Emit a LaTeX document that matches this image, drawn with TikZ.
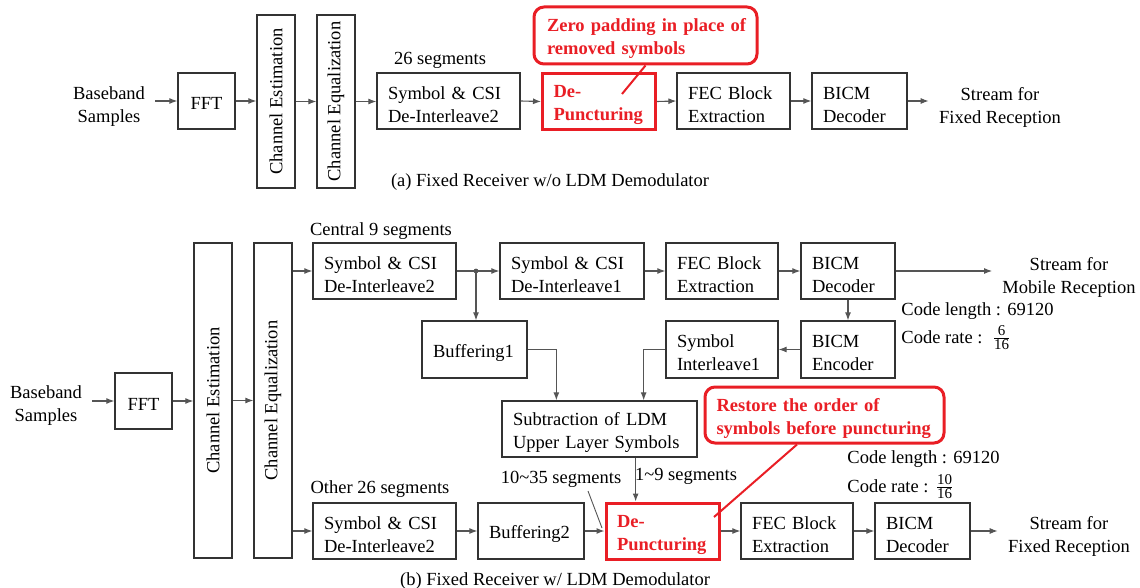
\documentclass[tikz,border=0pt]{standalone}
\usepackage{fontspec}
\setmainfont{Liberation Serif}
\usetikzlibrary{arrows.meta,calc}
\definecolor{boxc}{HTML}{333333}
\definecolor{linec}{HTML}{555555}
\definecolor{callred}{RGB}{233,30,37}
\newcommand\fz{\fontsize{9.25pt}{11.5pt}\selectfont}
\newcommand\fdig[1]{\mbox{\fontsize{7.5pt}{8pt}\selectfont #1}}
\begin{document}
\begin{tikzpicture}[x=0.5pt,y=-0.5pt,
 every node/.style={font=\fz},
 box/.style={draw=boxc, line width=0.65pt, inner xsep=5.5pt, inner ysep=0pt, align=left, minimum height=28pt, text height=9.6pt},
 fftbox/.style={draw=boxc, line width=0.65pt, inner sep=0pt, align=center, minimum width=28.5pt, minimum height=28pt, text height=9pt},
 redbox/.style={box, draw=callred, line width=1.5pt, text=callred, font=\fz\bfseries},
 vbox/.style={draw=boxc, line width=0.65pt, rotate=90, inner sep=0pt, minimum height=19pt},
 lbl/.style={inner sep=0pt, yshift=-1pt},
 txt/.style={align=center, inner xsep=5pt, inner ysep=0pt, yshift=-2pt},
 arr/.style={draw=linec, line width=0.55pt, -{Latex[length=4pt,width=3pt]}},
 conn/.style={draw=linec, line width=0.45pt},
 callout/.style={draw=callred, line width=1.5pt, rounded corners=5pt, text=callred, font=\fz\bfseries, align=left, inner ysep=0pt, text height=9.8pt},
 callline/.style={draw=callred, line width=1pt}
]
\useasboundingbox (0,0) rectangle (1140,588);

% ---------------- (a) ----------------
\node[txt] (inA) at (109,103) {Baseband\\Samples};
\node[fftbox] (fftA) at (206.5,101) {FFT};
\node[vbox, minimum width=86.5pt] (ceA) at (276,101.5) {Channel Estimation};
\node[vbox, minimum width=86.5pt] (cqA) at (336,101.5) {Channel Equalization};
\node[box, text width=60.5pt] (sdA) at (448.5,101) {Symbol \& CSI\\De-Interleave2};
\node[redbox, text width=45.5pt] (dpA) at (599,101.5) {De-\\Puncturing};
\node[box, text width=45.5pt] (fecA) at (733.5,101) {FEC Block\\Extraction};
\node[box, text width=36.5pt] (bicmA) at (859.5,101) {BICM\\Decoder};
\node[txt] (outA) at (1000,103) {Stream for\\Fixed Reception};
\node[lbl] (seg26) at (440,58) {26 segments};
\node[callout, inner xsep=6.5pt, text width=98.5pt, minimum height=28.5pt] (callA) at (645.5,35.5) {\mbox{Zero padding in place of}\\\mbox{removed symbols}};
\node[lbl] (capA) at (550,180) {(a) Fixed Receiver w/o LDM Demodulator};

\draw[arr] (inA.east |- fftA.west) -- (fftA.west);
\draw[arr] (fftA.east) -- (fftA.east -| ceA.north);
\draw[arr] (ceA.south) -- (cqA.north);
\draw[arr] (cqA.south) -- (cqA.south -| sdA.west);
\draw[arr] (sdA.east) -- (dpA.west);
\draw[arr] (dpA.east) -- (fecA.west);
\draw[arr] (fecA.east) -- (bicmA.west);
\draw[arr] (bicmA.east) -- (outA.west |- bicmA.east);
\coordinate (caEnd) at (622,94);
\draw[callline] (callA.south) -- (caEnd);

% ---------------- (b) ----------------
\node[txt] (inB) at (46,402) {Baseband\\Samples};
\node[fftbox] (fftB) at (143.5,401) {FFT};
\node[vbox, minimum width=157.5pt] (ceB) at (213,400.5) {Channel Estimation};
\node[vbox, minimum width=157.5pt] (cqB) at (273,400.5) {Channel Equalization};
\node[box, text width=60.5pt] (sd2t) at (384.5,271) {Symbol \& CSI\\De-Interleave2};
\node[box, text width=61pt] (sd1) at (572,271) {Symbol \& CSI\\De-Interleave1};
\node[box, text width=45pt] (fecB1) at (722,271) {FEC Block\\Extraction};
\node[box, text width=36pt] (bicmD1) at (848,271) {BICM\\Decoder};
\node[txt] (outMob) at (1069,273) {Stream for\\Mobile Reception};
\node[box, text width=41.5pt, minimum height=28.5pt] (buf1) at (474.5,349.5) {Buffering1};
\node[box, text width=45pt, minimum height=28.5pt] (symI) at (722,349.5) {Symbol\\Interleave1};
\node[box, text width=36pt, minimum height=28.5pt] (bicmE) at (848,349.5) {BICM\\Encoder};
\node[box, text width=86.5pt] (sub) at (599.5,429) {Subtraction of LDM\\Upper Layer Symbols};
\node[box, text width=60.5pt] (sd2b) at (384.5,531) {Symbol \& CSI\\De-Interleave2};
\node[box, text width=42pt] (buf2) at (531,531) {Buffering2};
\node[redbox, text width=45.5pt] (dpB) at (662.5,531) {De-\\Puncturing};
\node[box, text width=45pt] (fecB2) at (797,531) {FEC Block\\Extraction};
\node[box, text width=36.5pt] (bicmD2) at (922.5,531) {BICM\\Decoder};
\node[txt] (outFix) at (1069,532) {Stream for\\Fixed Reception};

\node[lbl] (segC9) at (381,229) {Central 9 segments};
\node[lbl] (segO26) at (380,487) {Other 26 segments};
\node[lbl] (s1035) at (561,477) {10\textasciitilde35 segments};
\node[lbl] (s19) at (686,474) {1\textasciitilde9 segments};
\node[lbl, anchor=west] (cl1) at (901,309) {Code length : 69120};
\node[lbl, anchor=west] (cr1) at (901,336) {Code rate : \,$\frac{\fdig{6}}{\fdig{16}}$};
\node[lbl, anchor=west] (cl2) at (847,457) {Code length : 69120};
\node[lbl, anchor=west] (cr2) at (847,485) {Code rate : $\frac{\fdig{10}}{\fdig{16}}$};
\node[callout, inner xsep=5.75pt, text width=108pt, minimum height=28pt] (callB) at (824.5,415) {\mbox{Restore the order of}\\\mbox{symbols before puncturing}};
\node[lbl] (capB) at (555,579) {(b) Fixed Receiver w/ LDM Demodulator};

\draw[arr] (inB.east |- fftB.west) -- (fftB.west);
\draw[arr] (fftB.east) -- (fftB.east -| ceB.north);
\draw[arr] (ceB.south) -- (cqB.north);
\draw[arr] (sd2t.west -| cqB.south) -- (sd2t.west);
\draw[arr] (sd2b.west -| cqB.south) -- (sd2b.west);
\coordinate (dot) at (476,271);
\draw[arr] (sd2t.east) -- (sd1.west);
\fill[linec] (dot) circle (1.2pt);
\draw[arr] (dot) -- (dot |- buf1.north);
\draw[arr] (sd1.east) -- (fecB1.west);
\draw[arr] (fecB1.east) -- (bicmD1.west);
\draw[arr] (bicmD1.east) -- (outMob.west |- bicmD1.east);
\draw[arr] (bicmD1.south) -- (bicmE.north);
\draw[arr] (bicmE.west) -- (symI.east);
\coordinate (subIn2) at ([xshift=-27pt]sub.north east);
\coordinate (subIn1) at ([xshift=27.5pt]sub.north west);
\draw[arr] (symI.west) -| (subIn2);
\draw[arr] (buf1.east) -| (subIn1);
\coordinate (subOut) at ([xshift=-31pt]sub.south east);
\draw[arr] (subOut) -- (subOut |- dpB.north);
\draw[arr] (sd2b.east) -- (buf2.west);
\draw[arr] (buf2.east) -- (dpB.west);
\draw[arr] (dpB.east) -- (fecB2.west);
\draw[arr] (fecB2.east) -- (bicmD2.west);
\draw[arr] (bicmD2.east) -- (outFix.west |- bicmD2.east);
\coordinate (ldA) at (588,491);
\coordinate (ldB) at (602,528);
\draw[conn] (ldA) -- (ldB);
\coordinate (cbStart) at ([xshift=-13.75pt]callB.south);
\coordinate (cbEnd) at (714,517);
\draw[callline] (cbStart) -- (cbEnd);
\end{tikzpicture}
\end{document}
